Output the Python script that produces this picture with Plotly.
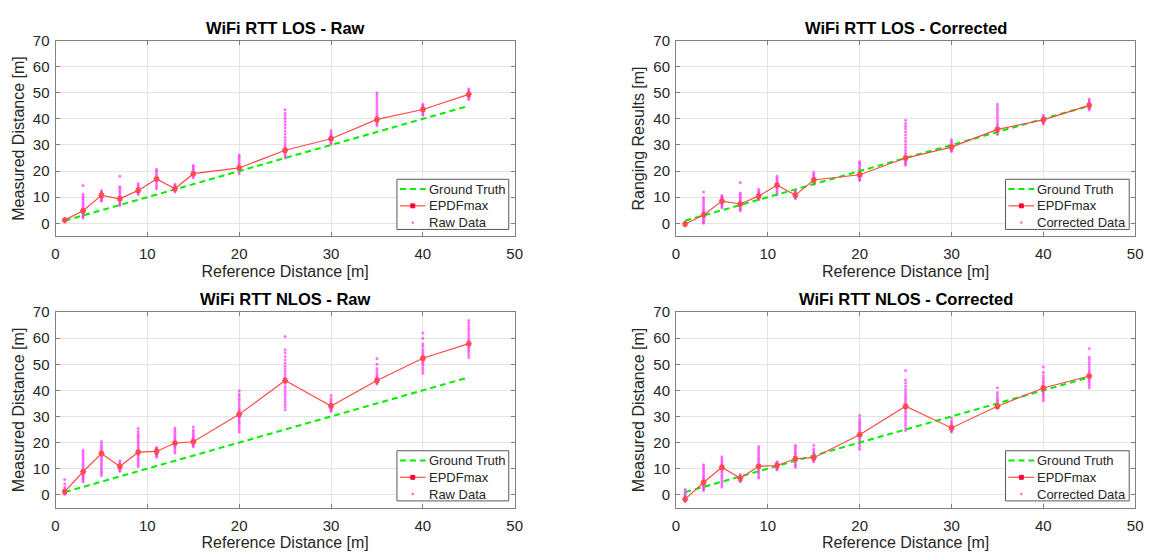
import plotly.graph_objects as go

ref_dist = [1, 3, 5, 7, 9, 11, 13, 15, 20, 25, 30, 35, 40, 45]
ground_truth = [1, 3, 5, 7, 9, 11, 13, 15, 20, 25, 30, 35, 40, 45]

los_raw_epdf = [1.2, 4.8, 10.7, 9.4, 12.6, 17.0, 13.2, 19.0, 21.2, 28.0, 32.4, 39.8, 43.6, 49.4]
los_cor_epdf = [-0.3, 3.2, 8.5, 7.4, 10.4, 14.6, 10.8, 16.6, 18.6, 25.0, 29.2, 36.0, 39.6, 45.2]
nlos_raw_epdf = [1.2, 8.8, 15.8, 10.8, 16.3, 16.6, 19.8, 20.3, 30.8, 43.8, 34.0, 43.8, 52.3, 57.9]
nlos_cor_epdf = [-1.7, 4.7, 10.5, 6.3, 10.9, 11.2, 13.8, 14.2, 23.0, 33.9, 25.6, 33.9, 40.9, 45.5]

los_raw_samples = [
    [0.6, 0.8, 1.0, 1.1, 1.2, 1.3, 1.4, 1.6, 1.9],
    [2.0, 2.6, 3.2, 3.8, 4.3, 4.8, 5.2, 5.8, 6.5, 7.2, 8.0, 8.8, 9.6, 10.4, 11.2, 14.5],
    [8.4, 9.0, 9.6, 10.1, 10.5, 10.8, 11.1, 11.5, 12.0, 12.6],
    [6.8, 7.4, 8.0, 8.6, 9.1, 9.4, 9.8, 10.4, 11.0, 11.8, 12.6, 13.4, 14.0, 18.0],
    [11.0, 11.6, 12.1, 12.5, 12.8, 13.2, 13.8, 14.4, 15.2],
    [13.2, 14.0, 14.8, 15.6, 16.3, 16.8, 17.2, 17.8, 18.5, 19.3, 20.0, 20.6],
    [12.0, 12.5, 12.9, 13.2, 13.5, 13.9, 14.4, 15.0],
    [17.4, 18.0, 18.5, 18.9, 19.2, 19.6, 20.2, 20.9, 21.6, 22.2],
    [19.0, 19.8, 20.5, 21.0, 21.4, 21.9, 22.5, 23.2, 24.0, 24.8, 25.5, 26.2],
    [25.0, 25.8, 26.5, 27.2, 27.8, 28.3, 29.0, 29.8, 30.8, 31.8, 33.0, 34.2, 35.4, 36.6, 37.8, 39.0, 40.2, 41.2, 42.2, 43.5],
    [30.4, 31.0, 31.6, 32.0, 32.4, 32.8, 33.3, 33.9, 34.6, 35.6],
    [37.4, 38.0, 38.6, 39.2, 39.6, 40.0, 40.6, 41.4, 42.3, 43.2, 44.2, 45.2, 46.2, 47.2, 48.2, 49.2, 50.0],
    [41.4, 42.0, 42.6, 43.1, 43.5, 43.9, 44.4, 45.0, 45.6],
    [47.4, 48.0, 48.6, 49.0, 49.4, 49.8, 50.3, 50.9, 51.6],
]

los_cor_samples = [
    [-1.0, -0.7, -0.5, -0.3, -0.1, 0.1, 0.3, 0.6],
    [0.0, 0.6, 1.2, 1.8, 2.4, 2.9, 3.3, 3.8, 4.4, 5.0, 5.8, 6.6, 7.4, 8.2, 9.0, 9.8, 12.0],
    [6.0, 6.6, 7.2, 7.7, 8.1, 8.5, 8.8, 9.2, 9.7, 10.2, 10.6],
    [4.8, 5.4, 6.0, 6.6, 7.0, 7.4, 7.8, 8.3, 8.9, 9.6, 10.3, 11.0, 11.6, 15.6],
    [9.0, 9.5, 9.9, 10.2, 10.5, 10.8, 11.2, 11.7, 12.3, 13.0],
    [11.0, 11.8, 12.6, 13.3, 13.9, 14.4, 14.8, 15.3, 15.9, 16.6, 17.3, 18.0],
    [9.5, 9.9, 10.3, 10.6, 10.9, 11.2, 11.6, 12.0, 12.6],
    [15.0, 15.5, 16.0, 16.4, 16.7, 17.0, 17.5, 18.1, 18.8, 19.6],
    [16.4, 17.0, 17.5, 18.0, 18.4, 18.8, 19.3, 19.9, 20.6, 21.4, 22.2, 23.0, 23.6],
    [22.2, 22.9, 23.5, 24.1, 24.6, 25.0, 25.5, 26.2, 27.0, 28.0, 29.0, 30.2, 31.4, 32.6, 33.8, 35.0, 36.2, 37.2, 38.2, 39.5],
    [27.5, 28.0, 28.5, 28.9, 29.2, 29.6, 30.0, 30.6, 31.2, 32.0],
    [34.0, 34.6, 35.2, 35.7, 36.0, 36.4, 37.0, 37.8, 38.6, 39.6, 40.6, 41.6, 42.6, 43.6, 44.6, 45.6],
    [38.0, 38.5, 38.9, 39.3, 39.6, 39.9, 40.3, 40.8, 41.4],
    [43.4, 44.0, 44.5, 44.9, 45.2, 45.5, 45.9, 46.4, 47.0, 47.6],
]

nlos_raw_samples = [
    [0.2, 0.5, 0.8, 1.0, 1.2, 1.4, 1.7, 2.2, 3.0, 4.2, 5.8],
    [5.0, 5.6, 6.2, 6.8, 7.4, 7.9, 8.4, 8.8, 9.3, 9.9, 10.6, 11.4, 12.2, 13.0, 13.8, 14.6, 15.4, 16.2, 17.0],
    [7.4, 8.2, 9.0, 9.8, 10.6, 11.4, 12.2, 13.0, 13.8, 14.6, 15.2, 15.8, 16.4, 17.0, 17.8, 18.6, 19.4, 20.4],
    [9.0, 9.5, 10.0, 10.4, 10.8, 11.2, 11.7, 12.3, 13.0],
    [10.8, 11.6, 12.4, 13.2, 14.0, 14.8, 15.5, 16.0, 16.4, 16.9, 17.6, 18.4, 19.2, 20.0, 20.8, 21.6, 22.4, 23.2, 24.2, 25.4],
    [14.4, 15.0, 15.5, 15.9, 16.3, 16.6, 16.9, 17.3, 17.7, 18.1],
    [16.0, 16.8, 17.6, 18.3, 18.9, 19.4, 19.8, 20.3, 20.9, 21.6, 22.4, 23.2, 24.0, 24.8, 25.6],
    [18.4, 19.0, 19.5, 19.9, 20.3, 20.7, 21.2, 21.8, 22.5, 23.2, 24.0, 24.8, 26.0],
    [24.0, 25.0, 26.0, 27.0, 27.8, 28.6, 29.4, 30.0, 30.5, 30.9, 31.4, 32.0, 32.8, 33.6, 34.6, 35.6, 36.6, 37.6, 38.6, 39.8],
    [32.6, 33.6, 34.6, 35.6, 36.6, 37.6, 38.6, 39.6, 40.6, 41.6, 42.6, 43.3, 43.8, 44.4, 45.2, 46.2, 47.2, 48.2, 49.2, 50.4, 51.6, 53.0, 54.4, 55.6, 60.6],
    [32.0, 32.6, 33.1, 33.5, 33.8, 34.0, 34.3, 34.7, 35.2, 35.9, 36.8, 38.0],
    [42.4, 42.9, 43.3, 43.6, 43.8, 44.1, 44.5, 45.0, 45.7, 46.5, 47.4, 48.4, 50.0, 52.2],
    [46.6, 47.6, 48.6, 49.6, 50.4, 51.1, 51.7, 52.1, 52.5, 53.0, 53.7, 54.6, 55.6, 56.8, 57.8, 60.0, 62.0],
    [52.6, 53.6, 54.6, 55.4, 56.1, 56.8, 57.4, 57.9, 58.4, 59.0, 59.8, 60.8, 61.8, 62.8, 63.8, 64.8, 65.8, 66.8],
]

nlos_cor_samples = [
    [-2.6, -2.2, -1.9, -1.7, -1.5, -1.2, -0.8, -0.2, 0.6, 1.2, 2.0],
    [1.6, 2.2, 2.8, 3.4, 3.9, 4.3, 4.7, 5.1, 5.6, 6.2, 6.9, 7.6, 8.4, 9.2, 10.0, 10.8, 11.5],
    [3.0, 3.8, 4.6, 5.4, 6.2, 7.0, 7.8, 8.6, 9.4, 10.0, 10.5, 11.0, 11.6, 12.3, 13.0, 13.8, 14.6],
    [5.0, 5.4, 5.8, 6.1, 6.3, 6.6, 6.9, 7.3, 7.8],
    [6.4, 7.2, 8.0, 8.8, 9.6, 10.2, 10.6, 11.0, 11.4, 12.0, 12.8, 13.6, 14.4, 15.2, 16.0, 16.8, 17.6, 18.5],
    [9.5, 10.0, 10.4, 10.8, 11.1, 11.4, 11.8, 12.2, 12.6],
    [10.5, 11.2, 11.9, 12.6, 13.2, 13.7, 14.1, 14.6, 15.2, 15.9, 16.6, 17.4, 18.2, 19.0],
    [12.6, 13.1, 13.6, 14.0, 14.3, 14.6, 15.0, 15.5, 16.1, 16.8, 17.6, 19.0],
    [17.4, 18.4, 19.4, 20.4, 21.2, 22.0, 22.6, 23.0, 23.5, 24.2, 25.0, 25.8, 26.6, 27.4, 28.2, 29.2, 30.4],
    [24.6, 25.6, 26.6, 27.6, 28.6, 29.6, 30.6, 31.6, 32.6, 33.4, 33.9, 34.5, 35.2, 36.0, 36.8, 37.6, 38.4, 39.4, 40.4, 41.6, 42.8, 44.0, 47.6],
    [24.0, 24.5, 24.9, 25.3, 25.6, 25.9, 26.3, 26.8, 27.5, 28.3, 29.4],
    [33.0, 33.4, 33.7, 34.0, 34.3, 34.7, 35.2, 35.8, 36.5, 37.3, 38.2, 39.2, 41.0],
    [36.0, 37.0, 37.8, 38.6, 39.3, 39.9, 40.4, 40.9, 41.4, 42.0, 42.8, 43.6, 44.6, 45.6, 46.8, 49.0],
    [41.0, 42.0, 42.8, 43.6, 44.3, 44.9, 45.4, 45.8, 46.3, 47.0, 47.8, 48.8, 49.8, 50.8, 51.8, 52.8, 56.0],
]

panel_titles = ["WiFi RTT LOS - Raw", "WiFi RTT LOS - Corrected",
                "WiFi RTT NLOS - Raw", "WiFi RTT NLOS - Corrected"]
y_titles = ["Measured Distance [m]", "Ranging Results [m]",
            "Measured Distance [m]", "Measured Distance [m]"]
data_names = ["Raw Data", "Corrected Data", "Raw Data", "Corrected Data"]
legend_names = ["Ground Truth", "EPDFmax"]
x_title = "Reference Distance [m]"
x_ticks = [0, 10, 20, 30, 40, 50]
y_ticks = [0, 10, 20, 30, 40, 50, 60, 70]

epdf_sets = [los_raw_epdf, los_cor_epdf, nlos_raw_epdf, nlos_cor_epdf]
sample_sets = [los_raw_samples, los_cor_samples, nlos_raw_samples, nlos_cor_samples]

# ---- layout geometry (screen pixels) ----
OFF = 8                  # default page body margin
FW, FH = 1150, 547       # figure size so that it fills the 1158x555 window
boxes = [(52, 516, 32, 231), (679, 1143, 32, 231),
         (52, 516, 308, 507), (679, 1143, 308, 507)]
legend_widths = [113, 125, 113, 125]


def fx(sx):
    return (sx - OFF) / FW


def fy(sy):
    return 1 - (sy - OFF) / FH


FONT = "Arial, 'Liberation Sans', Helvetica, sans-serif"
TXT = "#262626"
AX = "#808080"
GREEN = "#00ee00"
RED_LINE = "#ff4a4a"
RED_MARK = "#ff0033"
DOT = "rgba(255,0,255,0.55)"

fig = go.Figure()
layout = dict(width=FW, height=FH, margin=dict(l=0, r=0, t=0, b=0, pad=0),
              paper_bgcolor="white", plot_bgcolor="white", showlegend=False,
              font=dict(family=FONT, color=TXT, size=14))
annotations = []
shapes = []

for i in range(4):
    sfx = "" if i == 0 else str(i + 1)
    xa, ya = "x" + sfx, "y" + sfx
    L, R, T, B = boxes[i]
    xs, ys = [], []
    for d, vals in zip(ref_dist, sample_sets[i]):
        xs += [d] * len(vals)
        ys += vals
    fig.add_trace(go.Scatter(x=xs, y=ys, mode="markers", name=data_names[i],
                             marker=dict(color=DOT, size=3),
                             xaxis=xa, yaxis=ya))
    fig.add_trace(go.Scatter(x=ref_dist, y=ground_truth, mode="lines", name=legend_names[0],
                             line=dict(color=GREEN, width=2, dash="6px,4px"),
                             xaxis=xa, yaxis=ya))
    fig.add_trace(go.Scatter(x=ref_dist, y=epdf_sets[i], mode="lines+markers", name=legend_names[1],
                             line=dict(color=RED_LINE, width=1.2),
                             marker=dict(symbol="asterisk-open", size=5,
                                         line=dict(color=RED_MARK, width=1.5)),
                             xaxis=xa, yaxis=ya))
    common = dict(showgrid=True, gridcolor="#e4e4e4", gridwidth=1,
                  showline=True, linecolor=AX, linewidth=1, mirror="ticks",
                  ticks="inside", ticklen=4, tickcolor=AX, zeroline=False,
                  tickfont=dict(size=15, color=TXT, family=FONT))
    layout["xaxis" + sfx] = dict(common, domain=[fx(L), fx(R)], range=[0, 50],
                                 tickvals=x_ticks, anchor=ya, ticklabelstandoff=4,
                                 title=dict(text=x_title, font=dict(size=16, color=TXT), standoff=4))
    layout["yaxis" + sfx] = dict(common, domain=[fy(B), fy(T)], range=[-5, 70],
                                 tickvals=y_ticks, anchor=xa, ticklabelstandoff=2,
                                 title=dict(text=y_titles[i], font=dict(size=16, color=TXT), standoff=4))
    annotations.append(dict(text="<b>" + panel_titles[i] + "</b>", x=fx((L + R) / 2),
                            y=fy(T - 13), xref="paper", yref="paper",
                            xanchor="center", yanchor="middle", showarrow=False,
                            font=dict(size=16.5, color="#000000", family=FONT)))

    # ---- legend box (drawn manually to match the compact MATLAB legend) ----
    lx1 = R - 6
    lx0 = lx1 - legend_widths[i]
    ly0, ly1 = B - 58, B - 7
    rows = [B - 48, B - 31, B - 14]
    shapes.append(dict(type="rect", xref="paper", yref="paper", layer="above",
                       x0=fx(lx0), x1=fx(lx1), y0=fy(ly1), y1=fy(ly0),
                       line=dict(color="#5a5a5a", width=1), fillcolor="white"))
    shapes.append(dict(type="line", xref="paper", yref="paper", layer="above",
                       x0=fx(lx0 + 3), x1=fx(lx0 + 29), y0=fy(rows[0]), y1=fy(rows[0]),
                       line=dict(color=GREEN, width=2, dash="6px,4px")))
    shapes.append(dict(type="line", xref="paper", yref="paper", layer="above",
                       x0=fx(lx0 + 3), x1=fx(lx0 + 29), y0=fy(rows[1]), y1=fy(rows[1]),
                       line=dict(color=RED_LINE, width=1.2)))
    shapes.append(dict(type="rect", xref="paper", yref="paper", layer="above",
                       x0=fx(lx0 + 14), x1=fx(lx0 + 18), y0=fy(rows[1] + 2), y1=fy(rows[1] - 2),
                       line=dict(color=RED_MARK, width=1), fillcolor=RED_MARK))
    shapes.append(dict(type="circle", xref="paper", yref="paper", layer="above",
                       x0=fx(lx0 + 15), x1=fx(lx0 + 17), y0=fy(rows[2] + 1), y1=fy(rows[2] - 1),
                       line=dict(color="rgba(255,0,255,0.6)", width=0.5),
                       fillcolor="rgba(255,0,255,0.6)"))
    for txt, ry in zip(legend_names + [data_names[i]], rows):
        annotations.append(dict(text=txt, x=fx(lx0 + 30), y=fy(ry), xref="paper", yref="paper",
                                xanchor="left", yanchor="middle", showarrow=False,
                                font=dict(size=13, color=TXT, family=FONT)))

layout["annotations"] = annotations
layout["shapes"] = shapes
fig.update_layout(**layout)
fig.write_html("out.html")
